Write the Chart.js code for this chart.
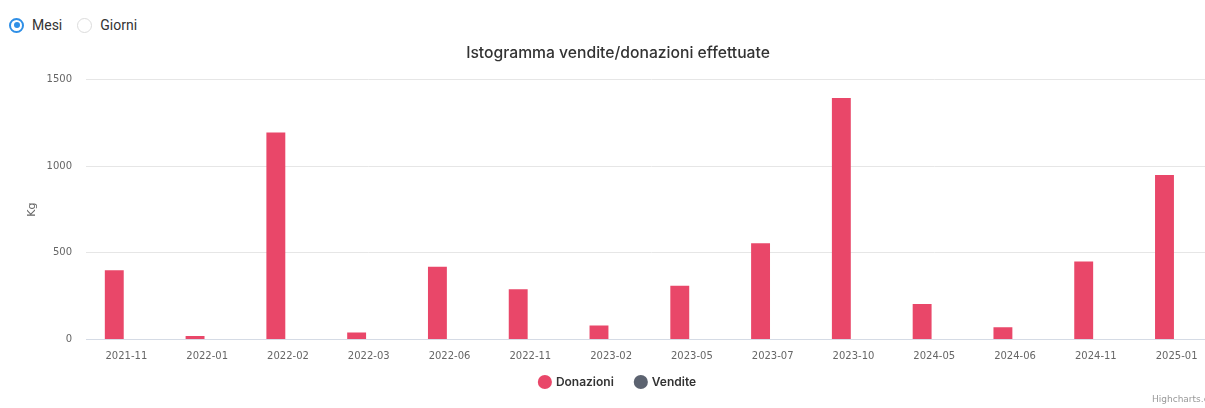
<!DOCTYPE html>
<html>
<head>
<meta charset="utf-8">
<script src="https://cdn.jsdelivr.net/npm/chart.js@4/dist/chart.umd.min.js"></script>
<style>
  html, body { margin: 0; padding: 0; background: #fff; overflow: hidden; width: 1205px; height: 408px; }
  .radios { position: absolute; left: 9px; top: 17px; font-family: Roboto, "Noto Sans", sans-serif; font-size: 14px; color: #333; display: flex; align-items: center; }
  .radio { display: flex; align-items: center; margin-right: 15px; }
  .dot { width: 15px; height: 15px; border-radius: 50%; box-sizing: border-box; border: 1px solid #dcdcdc; margin-right: 8px; position: relative; background: #fff; }
  .dot.on { border: 2px solid #2f8fe6; }
  .dot.on::after { content: ""; position: absolute; left: 2.5px; top: 2.5px; width: 6px; height: 6px; border-radius: 50%; background: #2f8fe6; }
  #wrap { position: absolute; left: 0; top: 30px; width: 1217px; height: 368px; }
  .credits { position: absolute; left: 1152px; top: 394px; font-family: "DejaVu Sans", sans-serif; font-size: 9px; color: #999; white-space: nowrap; }
</style>
</head>
<body>
<div class="radios">
  <div class="radio"><span class="dot on"></span><span>Mesi</span></div>
  <div class="radio"><span class="dot"></span><span>Giorni</span></div>
</div>
<div id="wrap"><canvas id="c" width="1217" height="368"></canvas></div>
<div class="credits">Highcharts.com</div>
<script>
const categories = ["2021-11","2022-01","2022-02","2022-03","2022-06","2022-11","2023-02","2023-05","2023-07","2023-10","2024-05","2024-06","2024-11","2025-01"];
const donazioni = [400, 20, 1195, 40, 420, 290, 80, 310, 555, 1395, 205, 70, 450, 950];
const vendite = [0, 0, 0, 0, 0, 0, 0, 0, 0, 0, 0, 0, 0, 0];
const yTicks = [0, 500, 1000, 1500];

// let x-axis labels draw outside the (intentionally short) axis box
Chart.CategoryScale.prototype._computeLabelArea = function () { return undefined; };

const ctx = document.getElementById('c').getContext('2d');
new Chart(ctx, {
  type: 'bar',
  data: {
    labels: categories,
    datasets: [
      { label: 'Donazioni', data: donazioni, backgroundColor: '#e94769', borderWidth: 0, categoryPercentage: 0.6, barPercentage: 0.78 },
      { label: 'Vendite', data: vendite, backgroundColor: '#5c6370', borderWidth: 0, categoryPercentage: 0.6, barPercentage: 0.78 }
    ]
  },
  options: {
    responsive: false,
    animation: false,
    devicePixelRatio: 1,
    layout: { padding: { left: 19, right: 0, top: 0, bottom: 0 } },
    plugins: {
      title: {
        display: true,
        text: 'Istogramma vendite/donazioni effettuate',
        color: '#333',
        font: { family: 'Inter, "Noto Sans", sans-serif', size: 15.7, weight: '500' },
        padding: { top: 14, bottom: 17 }
      },
      legend: {
        position: 'bottom',
        labels: {
          usePointStyle: true,
          pointStyle: 'circle',
          boxWidth: 10,
          boxHeight: 10,
          padding: 22,
          color: '#333',
          font: { family: 'Inter, "Noto Sans", sans-serif', size: 12, weight: '600' }
        }
      },
      tooltip: { enabled: false }
    },
    scales: {
      x: {
        grid: { display: false },
        border: { color: '#d5dbe5' },
        ticks: { color: '#666', padding: 3, maxRotation: 0, autoSkip: false,
                 font: { family: '"DejaVu Sans", sans-serif', size: 10 } },
        afterFit: (s) => { s.height = 14.6; }
      },
      y: {
        min: 0, max: 1500,
        afterBuildTicks: (s) => { s.ticks = yTicks.map(v => ({ value: v })); },
        grid: { color: '#e6e6e6', drawTicks: false },
        border: { display: false },
        ticks: { color: '#666', padding: 14, callback: (v) => String(v),
                 font: { family: '"DejaVu Sans", sans-serif', size: 10 } },
        title: { display: true, text: 'Kg', color: '#666', padding: { top: 7, bottom: 0 },
                 font: { family: '"DejaVu Sans", sans-serif', size: 11 } },
        afterFit: (s) => { s.width = 67; }
      }
    }
  }
});
</script>
</body>
</html>
